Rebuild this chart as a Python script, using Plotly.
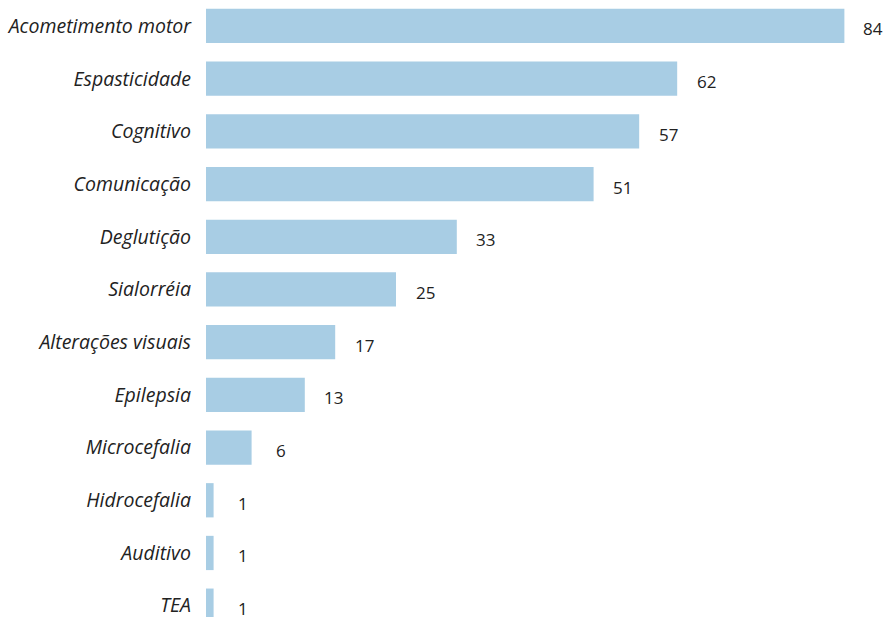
import plotly.graph_objects as go

categories = ["Acometimento motor", "Espasticidade", "Cognitivo", "Comunicação", "Deglutição",
              "Sialorréia", "Alterações visuais", "Epilepsia", "Microcefalia", "Hidrocefalia",
              "Auditivo", "TEA"]
values = [84, 62, 57, 51, 33, 25, 17, 13, 6, 1, 1, 1]

fig = go.Figure()
fig.add_trace(go.Bar(
    x=values, y=categories, orientation="h",
    marker=dict(color="#a8cde4", line=dict(width=0)),
    width=0.65, hoverinfo="skip",
))
for c, v in zip(categories, values):
    fig.add_annotation(x=v, y=c, text=str(v), showarrow=False, xanchor="center",
                       xshift=29, yshift=-3,
                       font=dict(family="Open Sans", size=17, color="#222222"))

fig.update_layout(
    width=883, height=617,
    margin=dict(l=206, r=0, t=0, b=0, autoexpand=False),
    paper_bgcolor="white", plot_bgcolor="white",
    showlegend=False,
    xaxis=dict(range=[0, 89.08], showgrid=False, zeroline=False, showticklabels=False,
               showline=False, ticks="", automargin=False),
    yaxis=dict(type="category", categoryorder="array", categoryarray=categories,
               range=[11.215, -0.493], showgrid=False, zeroline=False, showline=False,
               ticks="", ticklabelstandoff=14, automargin=False,
               tickfont=dict(family="Open Sans", size=19.5, color="#222222", style="italic")),
)
fig.write_html("out.html", config={"displayModeBar": False},
               post_script="document.body.style.margin='0';document.body.style.overflow='hidden';")
